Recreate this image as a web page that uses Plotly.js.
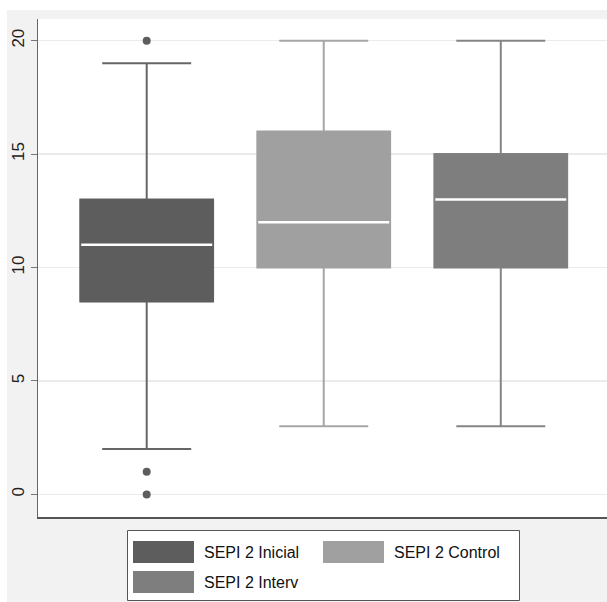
<!DOCTYPE html>
<html>
<head>
<meta charset="utf-8">
<script src="https://cdn.plot.ly/plotly-3.0.1.min.js"></script>
<style>
  html, body { margin: 0; padding: 0; background: #ffffff; }
  #bg { position: absolute; left: 7px; top: 10px; width: 600px; height: 592px; background: #f2f2f2; }
  #chart { position: absolute; left: 0; top: 0; width: 607px; height: 602px; }
</style>
</head>
<body>
<div id="bg"></div>
<div id="chart"></div>
<script>
// ---- data ----
const categories = ['SEPI 2 Inicial', 'SEPI 2 Control', 'SEPI 2 Interv'];
const q1Values      = [8.5, 10, 10];
const medianValues  = [11, 12, 13];
const q3Values      = [13, 16, 15];
const lowerFences   = [2, 3, 3];
const upperFences   = [19, 20, 20];
const outlierGroup  = ['SEPI 2 Inicial', 'SEPI 2 Inicial', 'SEPI 2 Inicial'];
const outlierValues = [20, 1, 0];
const yTickValues   = [0, 5, 10, 15, 20];
const yTickLabels   = ['0', '5', '10', '15', '20'];

// ---- styling ----
const fills = ['#5d5d5d', '#a0a0a0', '#7e7e7e'];
const whisk = ['#666666', '#a6a6a6', '#858585'];
const BOXW = 0.75;
const W = 607, H = 602, L = 38, R = 0, T = 19, B = 85;
const PW = W - L - R, PH = H - T - B;
const px = x => (x - L) / PW;
const py = y => (H - B - y) / PH;

const traces = categories.map((c, i) => ({
  type: 'box',
  name: c,
  x: [c],
  q1: [q1Values[i]],
  median: [medianValues[i]],
  q3: [q3Values[i]],
  lowerfence: [lowerFences[i]],
  upperfence: [upperFences[i]],
  width: BOXW,
  whiskerwidth: 0.67,
  fillcolor: fills[i],
  line: { color: whisk[i], width: 2 },
  boxpoints: false,
  hoverinfo: 'skip',
  showlegend: false
}));

traces.push({
  type: 'scatter',
  mode: 'markers',
  x: outlierGroup,
  y: outlierValues,
  marker: { color: fills[0], size: 8, symbol: 'circle' },
  hoverinfo: 'skip',
  showlegend: false
});

const shapes = [];
// box outline in fill colour + white medians
categories.forEach((c, i) => {
  shapes.push({
    type: 'rect', xref: 'x', yref: 'y', layer: 'above',
    x0: i - BOXW / 2, x1: i + BOXW / 2, y0: q1Values[i], y1: q3Values[i],
    fillcolor: fills[i], line: { color: fills[i], width: 1 }
  });
  shapes.push({
    type: 'line', xref: 'x', yref: 'y', layer: 'above',
    x0: i - BOXW / 2 + 0.005, x1: i + BOXW / 2 - 0.005, y0: medianValues[i], y1: medianValues[i],
    line: { color: '#ffffff', width: 2.5 }
  });
});

// legend frame
shapes.push({
  type: 'rect', xref: 'paper', yref: 'paper',
  x0: px(127.5), x1: px(519.5), y0: py(600.5), y1: py(530.5),
  fillcolor: '#ffffff', line: { color: '#555555', width: 1 }
});
const legPos = [
  { sx: 133, ty: 541, tx: 204 },
  { sx: 323, ty: 541, tx: 394 },
  { sx: 133, ty: 571, tx: 204 }
];
const annotations = [];
categories.forEach((c, i) => {
  const p = legPos[i];
  shapes.push({
    type: 'rect', xref: 'paper', yref: 'paper',
    x0: px(p.sx), x1: px(p.sx + 61), y0: py(p.ty + 22), y1: py(p.ty),
    fillcolor: fills[i], line: { color: fills[i], width: 0 }
  });
  annotations.push({
    xref: 'paper', yref: 'paper', x: px(p.tx - 2), y: py(p.ty + 11.5),
    xanchor: 'left', yanchor: 'middle', showarrow: false, text: c,
    font: { family: 'Liberation Sans, Arial, sans-serif', size: 16, color: '#111111' }
  });
});

const layout = {
  width: W, height: H,
  margin: { l: L, r: R, t: T, b: B, pad: 0 },
  paper_bgcolor: 'rgba(0,0,0,0)',
  plot_bgcolor: '#ffffff',
  showlegend: false,
  boxmode: 'overlay',
  xaxis: {
    type: 'category',
    categoryorder: 'array', categoryarray: categories,
    range: [-0.614, 2.6],
    showticklabels: false, ticks: '', showgrid: false, zeroline: false,
    showline: true, linecolor: '#555555', linewidth: 1.5
  },
  yaxis: {
    range: [-0.996, 20.956],
    tickvals: yTickValues, ticktext: yTickLabels,
    tickangle: -90,
    ticks: 'outside', ticklen: 6, tickcolor: '#777777', tickwidth: 1,
    tickfont: { family: 'Liberation Sans, Arial, sans-serif', size: 17, color: '#222222' },
    showgrid: true, gridcolor: '#ebebeb', gridwidth: 1.5,
    zeroline: false,
    showline: true, linecolor: '#666666', linewidth: 1.5
  },
  shapes: shapes,
  annotations: annotations
};

Plotly.newPlot('chart', traces, layout, { staticPlot: true, displayModeBar: false });
</script>
</body>
</html>
